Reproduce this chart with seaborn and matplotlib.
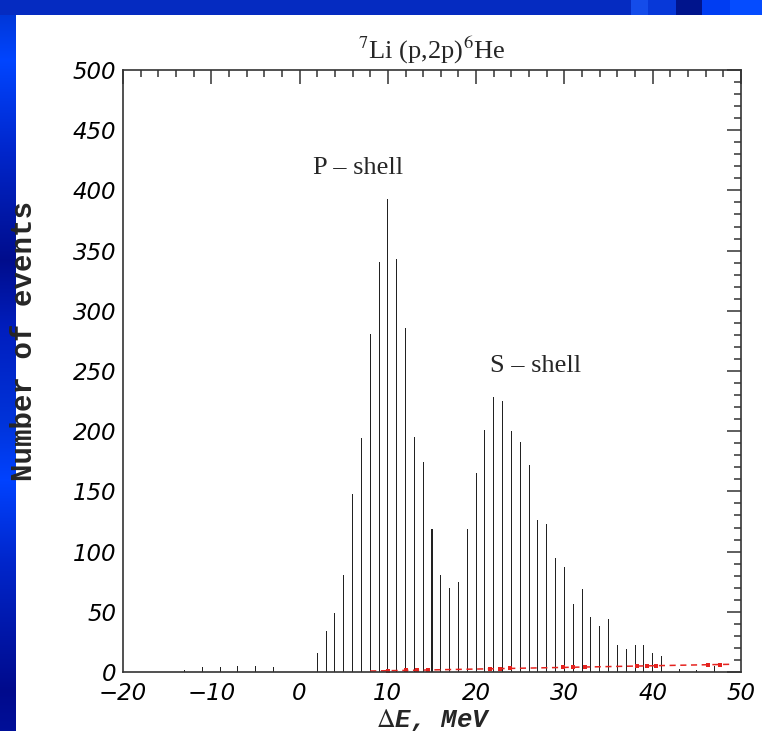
import numpy as np
import pandas as pd
import matplotlib
matplotlib.use("Agg")
import matplotlib.pyplot as plt
from matplotlib.ticker import MultipleLocator
import seaborn as sns

# ---- data ----
energy = [-13, -11, -9, -7, -5, -3, 2, 3, 4, 5, 6, 7, 8, 9, 10, 11, 12, 13, 14, 15,
          16, 17, 18, 19, 20, 21, 22, 23, 24, 25, 26, 27, 28, 29, 30, 31, 32, 33,
          34, 35, 36, 37, 38, 39, 40, 41, 43, 45, 47]
counts = [1.5, 4.5, 4, 5, 5, 4.5, 15.5, 34, 48.7, 80.6, 147.8, 194, 280.5, 340.5, 393,
          343, 286, 195, 174.7, 119, 80.6, 70, 74.7, 119, 165.5, 201, 228, 225, 200,
          191, 172, 126, 123, 95, 87.5, 56.5, 69, 45.4, 38.5, 44, 22.4, 18.8, 22.4,
          22.4, 15.5, 13.3, 2.2, 2, 5]

bg_line_x = [8, 48.8]
bg_line_y = [0.8, 6.4]
bg_pts_x = [10, 12, 13.3, 14.5, 21.6, 22.7, 23.8, 29.8, 31, 32.3, 38.2, 39.3, 40.4, 46.3, 47.6]
bg_pts_y = [1.1, 1.35, 1.5, 1.7, 2.65, 2.8, 2.95, 3.75, 3.9, 4.1, 4.9, 5.0, 5.2, 6.0, 6.2]

x_ticks = [-20, -10, 0, 10, 20, 30, 40, 50]
y_ticks = [0, 50, 100, 150, 200, 250, 300, 350, 400, 450, 500]

title_text = r"$^{7}$Li (p,2p)$^{6}$He"
xlabel_text = r"$\Delta$E, MeV"
ylabel_text = "Number of events"
p_label = "P \u2013 shell"
s_label = "S \u2013 shell"

# ---- style ----
sns.set_theme(style="white")
plt.rcParams["font.family"] = ["DejaVu Sans"]
plt.rcParams["mathtext.fontset"] = "stix"

W, H = 762, 731
fig = plt.figure(figsize=(W / 100, H / 100), dpi=100)
fig.patch.set_facecolor("white")

# ---- blue slide frame (background image) ----
bg = np.ones((H, W, 3))
stops_y = [0, 60, 150, 260, 330, 420, 480, 560, 690, 731]
stops_g = [0.20, 0.27, 0.15, 0.05, 0.12, 0.20, 0.26, 0.15, 0.04, 0.06]
stops_b = [0.80, 1.00, 0.80, 0.55, 0.75, 0.85, 1.00, 0.80, 0.55, 0.60]
yy = np.arange(H)
g = np.interp(yy, stops_y, stops_g)
b = np.interp(yy, stops_y, stops_b)
bg[:, :16, 0] = 0.0
bg[:, :16, 1] = g[:, None]
bg[:, :16, 2] = b[:, None]
top = np.zeros((15, W, 3))
top[:, :, :] = [0.02, 0.17, 0.76]
segs = [(631, 648, [0.08, 0.30, 0.92]), (648, 676, [0.03, 0.22, 0.85]),
        (676, 702, [0.00, 0.08, 0.55]), (702, 730, [0.00, 0.24, 0.95]),
        (730, 762, [0.02, 0.30, 1.00])]
for x0, x1, c in segs:
    top[:, x0:x1, :] = c
bg[:15, :, :] = top
fig.figimage(bg, xo=0, yo=0, origin="upper", zorder=-10)

# ---- axes ----
ax = fig.add_axes([123 / W, 59 / H, 618 / W, 602 / H])
ax.set_facecolor("white")

df = pd.DataFrame({"energy": energy, "counts": counts})
sns.barplot(data=df, x="energy", y="counts", native_scale=True, width=0.115,
            color="#222222", saturation=1, errorbar=None, linewidth=0, ax=ax)

sns.lineplot(x=bg_line_x, y=bg_line_y, color="#e5231f", linewidth=1.1,
             linestyle=(0, (4, 3)), ax=ax)
sns.scatterplot(x=bg_pts_x, y=bg_pts_y, color="#e5231f", marker="s", s=9,
                linewidth=0, ax=ax)

ax.set_xlim(-20, 50)
ax.set_ylim(0, 500)
ax.set_xticks(x_ticks)
ax.set_yticks(y_ticks)
ax.set_xticklabels([f"{v}".replace("-", "\u2212") for v in x_ticks])
ax.set_yticklabels([str(v) for v in y_ticks])
ax.xaxis.set_minor_locator(MultipleLocator(2))
ax.yaxis.set_minor_locator(MultipleLocator(10))
ax.tick_params(which="both", direction="in", top=True, right=True,
               color="#333333", width=1.1, labelsize=16.5, labelcolor="black")
ax.tick_params(which="major", length=10)
ax.tick_params(which="minor", length=5)
ax.tick_params(axis="x", which="major", pad=7.5)
ax.tick_params(axis="y", which="major", pad=5)
for t in ax.get_xticklabels() + ax.get_yticklabels():
    t.set_fontstyle("italic")
for sp in ax.spines.values():
    sp.set_visible(True)
    sp.set_color("#333333")
    sp.set_linewidth(1.2)

ax.set_title(title_text, fontsize=19, family="Liberation Serif", pad=8)
ax.set_xlabel(xlabel_text, family="Liberation Mono", weight="bold",
              style="italic", fontsize=18.5)
ax.set_ylabel(ylabel_text, family="Liberation Mono", weight="bold", fontsize=21)
ax.xaxis.set_label_coords(0.503, -0.058)
ax.yaxis.set_label_coords(-0.137, 0.55)

ax.text(1.52, 414, p_label, family="Liberation Serif", fontsize=19,
        ha="left", va="baseline")
ax.text(21.56, 249.4, s_label, family="Liberation Serif", fontsize=19,
        ha="left", va="baseline")

fig.savefig("out.png", dpi=100)
